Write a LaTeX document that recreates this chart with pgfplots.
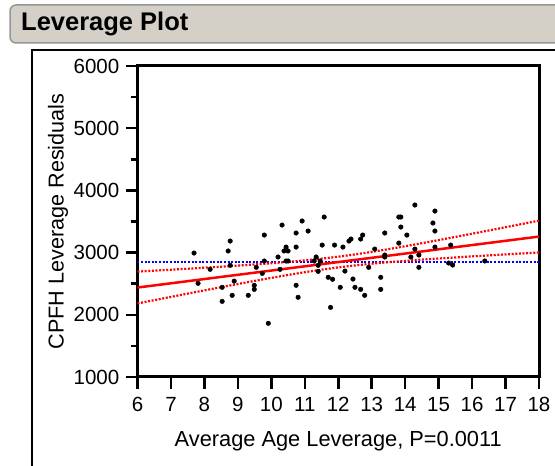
\documentclass[border=0pt]{standalone}
\usepackage{fontspec}
\setmainfont{Liberation Sans}
\usepackage{pgfplots}
\pgfplotsset{compat=1.18}
\definecolor{boxgray}{RGB}{212,208,200}
\definecolor{boxedge}{RGB}{150,150,150}
\begin{document}
\begin{tikzpicture}[x=1pt,y=1pt]
\useasboundingbox (0,0) rectangle (555,466);
\draw[draw=boxedge, fill=boxgray, rounded corners=6pt, line width=1.5pt] (10,423) rectangle (600,461);
\node[anchor=west, font=\fontsize{25.5}{30}\selectfont\bfseries, inner sep=0pt] at (21,442) {Leverage Plot};
\draw[line width=2pt] (31.5,-5) -- (31.5,415.5) -- (600,415.5);
\begin{axis}[
  at={(137.5pt,89pt)}, anchor=south west,
  scale only axis, width=401.5pt, height=311pt,
  xmin=6, xmax=18, ymin=1000, ymax=6000,
  xtick={6,7,8,9,10,11,12,13,14,15,16,17,18},
  ytick={1000,2000,3000,4000,5000,6000},
  minor ytick={1500,2500,3500,4500,5500},
  tick pos=left, tick align=outside,
  major tick length=12pt, minor tick length=7pt,
  every tick/.style={black, line width=2.5pt},
  axis line style={line width=3pt},
  /pgf/number format/assume math mode=true,
  /pgf/number format/1000 sep={},
  xticklabel style={font=\fontsize{20.5}{24}\selectfont, inner sep=0pt, anchor=north, yshift=-8pt},
  yticklabel style={font=\fontsize{20.5}{24}\selectfont, inner sep=0pt, anchor=east, xshift=-6pt},
  xlabel={Average Age Leverage, P=0.0011},
  ylabel={CPFH Leverage Residuals},
  xlabel style={font=\fontsize{21.8}{25}\selectfont, at={(axis description cs:0.5,-0.206)}, anchor=center, inner sep=0pt},
  ylabel style={font=\fontsize{21.6}{25}\selectfont, at={(axis description cs:-0.198,0.5)}, anchor=center, inner sep=0pt},
]
% mean line
\addplot[blue, line width=2.2pt, dash pattern=on 2pt off 1.6pt] coordinates {(6,2853) (18,2853)};
% confidence curves
\addplot[red, line width=2.2pt, dash pattern=on 2pt off 1.6pt, smooth] coordinates {
(6,2694.2) (7,2725.1) (8,2757.1) (9,2791.2) (10,2829.1) (11,2874.6) (12,2934)
(13,3011.2) (14,3102.3) (15,3201) (16,3303.5) (17,3408.1) (18,3513.8)};
\addplot[red, line width=2.2pt, dash pattern=on 2pt off 1.6pt, smooth] coordinates {
(6,2182.2) (7,2287.9) (8,2392.5) (9,2495) (10,2593.7) (11,2684.8) (12,2762)
(13,2821.4) (14,2866.9) (15,2904.8) (16,2938.9) (17,2970.9) (18,3001.8)};
% fit line
\addplot[red, line width=2.5pt] coordinates {(6,2438.2) (18,3257.8)};
% data points
\addplot[only marks, mark=*, mark size=2.3pt, black] coordinates {
(7.69,2993) (7.81,2506) (8.17,2731) (8.53,2442) (8.53,2216) (8.71,3026) (8.77,3186)
(8.77,2795) (8.83,2313) (8.89,2542) (9.31,2313) (9.49,2474) (9.49,2409) (9.55,2763)
(9.73,2666) (9.79,3282) (9.79,2865) (9.91,1863) (10.20,2929) (10.26,2731) (10.32,3443)
(10.38,3026) (10.44,3089) (10.50,3026) (10.44,2865) (10.50,2865) (10.74,3315) (10.74,3089)
(10.74,2474) (10.80,2281) (10.92,3508) (11.10,3347) (11.28,2865) (11.34,2929) (11.40,2795)
(11.40,2698) (11.46,2865) (11.52,3121) (11.58,3572) (11.70,2603) (11.77,2119) (11.83,2571)
(11.89,3121) (12.06,2442) (12.14,3089) (12.20,2703) (12.32,3186) (12.38,3218) (12.44,2575)
(12.50,2442) (12.67,3218) (12.67,2409) (12.73,3282) (12.79,2313) (12.91,2763) (13.09,3057)
(13.27,2603) (13.27,2409) (13.39,3315) (13.39,2961) (13.39,2929) (13.81,3572) (13.87,3572)
(13.87,3411) (13.81,3153) (14.05,3282) (14.17,2929) (14.29,3765) (14.29,3057) (14.41,2961)
(14.41,2763) (14.83,3476) (14.89,3668) (14.89,3347) (14.89,3089) (15.30,2832) (15.36,3121)
(15.42,2800) (16.38,2865)};
\end{axis}
\end{tikzpicture}
\end{document}
